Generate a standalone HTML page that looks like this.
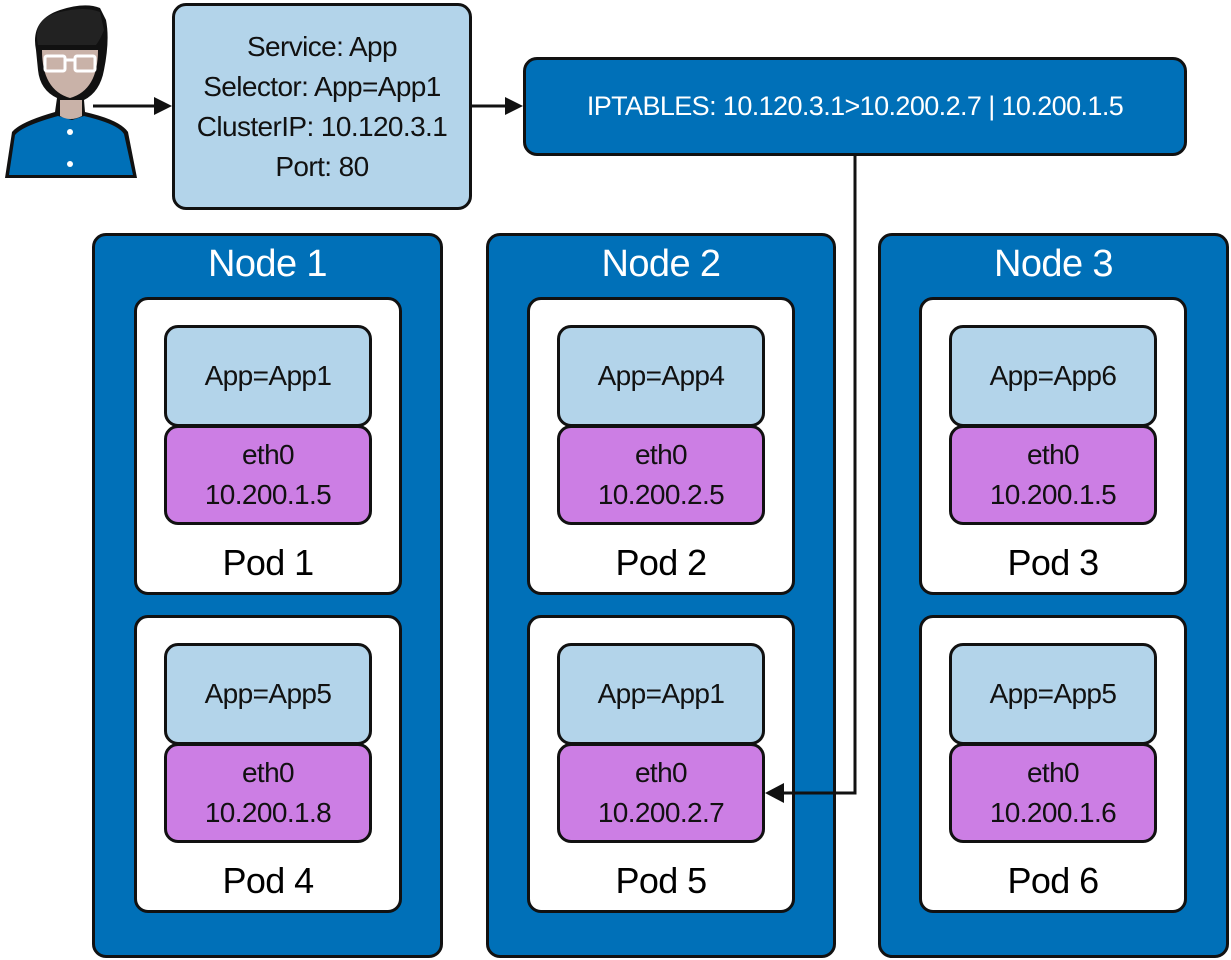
<!DOCTYPE html>
<html><head><meta charset="utf-8"><style>
body{margin:0;width:1231px;height:960px;background:#fff;position:relative;overflow:hidden;font-family:"Liberation Sans",sans-serif;letter-spacing:-0.6px;}
.b{position:absolute;box-sizing:border-box;border:3px solid #111;border-radius:14px;display:flex;flex-direction:column;align-items:center;justify-content:center;text-align:center;color:#111;}
.node{background:#0070b8;}
.nt{position:absolute;text-align:center;color:#fff;font-size:38px;}
.pod{background:#fff;}
.app{background:#b3d4ea;font-size:28px;}
.eth{background:#cc7ee4;font-size:28px;line-height:40px;}
.pl{position:absolute;font-size:36px;color:#000;text-align:center;}
</style></head><body>
<svg width="1231" height="960" style="position:absolute;left:0;top:0">
<path d="M5,178 L12,132 Q20,122 55,112 L57,98 Q40,90 38,70 L36,50 Q30,20 60,10 Q85,2 100,8 L106,20 Q110,40 104,70 Q100,92 84,100 L85,112 Q120,120 128,132 L137,178 Z" fill="#111"/>
<path d="M9,175 L15,135 Q22,126 58,116 L72,120 L84,116 Q118,124 124,134 L133,175 Z" fill="#0070b8"/>
<path d="M42,50 Q42,90 70,98 Q98,90 98,50 Z" fill="#c9b2a8"/>
<path d="M60,100 L82,100 L82,116 Q70,122 60,116 Z" fill="#c9b2a8"/>
<path d="M38,45 Q32,18 60,12 Q85,6 100,12 L104,30 Q100,40 96,45 Z" fill="#222"/>
<rect x="45" y="56" width="20" height="15" fill="none" stroke="#fff" stroke-width="3" rx="2"/>
<rect x="75" y="56" width="20" height="15" fill="none" stroke="#fff" stroke-width="3" rx="2"/>
<line x1="65" y1="60" x2="75" y2="60" stroke="#fff" stroke-width="3"/>
<circle cx="70" cy="132" r="3" fill="#fff"/><circle cx="70" cy="164" r="3" fill="#fff"/>
<line x1="93" y1="106" x2="158" y2="106" stroke="#111" stroke-width="3"/>
<line x1="472" y1="106" x2="508" y2="106" stroke="#111" stroke-width="3"/>
</svg>
<div class="b app" style="left:172px;top:3px;width:300px;height:207px;font-size:28px;line-height:40px;">Service: App<br>Selector: App=App1<br>ClusterIP: 10.120.3.1<br>Port: 80</div>
<div class="b" style="left:523px;top:57px;width:664px;height:99px;background:#0070b8;color:#fff;font-size:27px;">IPTABLES: 10.120.3.1&gt;10.200.2.7 | 10.200.1.5</div>

<div class="b node" style="left:92px;top:233px;width:351px;height:725px;"></div>
<div class="b node" style="left:486px;top:233px;width:350px;height:725px;"></div>
<div class="b node" style="left:878px;top:233px;width:351px;height:725px;"></div>
<div class="nt" style="left:92px;width:351px;top:243px;">Node 1</div>
<div class="nt" style="left:486px;width:350px;top:243px;">Node 2</div>
<div class="nt" style="left:878px;width:351px;top:243px;">Node 3</div>

<div class="b pod" style="left:134px;top:297px;width:268px;height:298px"></div>
<div class="b pod" style="left:134px;top:615px;width:268px;height:298px"></div>
<div class="b pod" style="left:527px;top:297px;width:268px;height:298px"></div>
<div class="b pod" style="left:527px;top:615px;width:268px;height:298px"></div>
<div class="b pod" style="left:919px;top:297px;width:268px;height:298px"></div>
<div class="b pod" style="left:919px;top:615px;width:268px;height:298px"></div>

<div class="b app" style="left:164px;top:325px;width:208px;height:102px">App=App1</div>
<div class="b eth" style="left:164px;top:425px;width:208px;height:100px">eth0<br>10.200.1.5</div>
<div class="pl" style="left:134px;width:268px;top:542px">Pod 1</div>
<div class="b app" style="left:164px;top:643px;width:208px;height:102px">App=App5</div>
<div class="b eth" style="left:164px;top:743px;width:208px;height:100px">eth0<br>10.200.1.8</div>
<div class="pl" style="left:134px;width:268px;top:860px">Pod 4</div>

<div class="b app" style="left:557px;top:325px;width:208px;height:102px">App=App4</div>
<div class="b eth" style="left:557px;top:425px;width:208px;height:100px">eth0<br>10.200.2.5</div>
<div class="pl" style="left:527px;width:268px;top:542px">Pod 2</div>
<div class="b app" style="left:557px;top:643px;width:208px;height:102px">App=App1</div>
<div class="b eth" style="left:557px;top:743px;width:208px;height:100px">eth0<br>10.200.2.7</div>
<div class="pl" style="left:527px;width:268px;top:860px">Pod 5</div>

<div class="b app" style="left:949px;top:325px;width:208px;height:102px">App=App6</div>
<div class="b eth" style="left:949px;top:425px;width:208px;height:100px">eth0<br>10.200.1.5</div>
<div class="pl" style="left:919px;width:268px;top:542px">Pod 3</div>
<div class="b app" style="left:949px;top:643px;width:208px;height:102px">App=App5</div>
<div class="b eth" style="left:949px;top:743px;width:208px;height:100px">eth0<br>10.200.1.6</div>
<div class="pl" style="left:919px;width:268px;top:860px">Pod 6</div>

<svg width="1231" height="960" style="position:absolute;left:0;top:0">
<path d="M855,156 L855,793 L782,793" fill="none" stroke="#111" stroke-width="3"/>
<path d="M765,793 L784,783 L784,803z" fill="#111"/>
<path d="M154,97 L172,106 L154,115z" fill="#111"/>
<path d="M505,97 L523,106 L505,115z" fill="#111"/>
</svg>
</body></html>
